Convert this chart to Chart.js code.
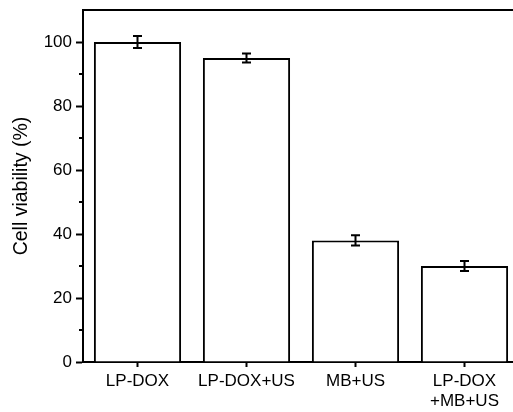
<!DOCTYPE html>
<html>
<head>
<meta charset="utf-8">
<script src="https://cdn.jsdelivr.net/npm/chart.js@4"></script>
<style>
  html, body { margin: 0; padding: 0; background: #fff; overflow: hidden; }
  #wrap { width: 520px; height: 412px; }
</style>
</head>
<body>
<div id="wrap"><canvas id="viabilityChart" width="520" height="412"></canvas></div>
<script>
// data
var categories = ['LP-DOX', 'LP-DOX+US', 'MB+US', ['LP-DOX', '+MB+US']];
var viability = [100, 95, 38, 30];
var errors = [1.9, 1.4, 1.6, 1.6];
var yTicks = [0, 20, 40, 60, 80, 100];
var yMinorTicks = [10, 30, 50, 70, 90];

var FONT = 'Liberation Sans, Arial, sans-serif';

// error bars, top frame line and minor y ticks
var extras = {
    id: 'extras',
    afterDatasetsDraw: function (chart) {
        var ctx = chart.ctx;
        var y = chart.scales.y;
        var area = chart.chartArea;
        var meta = chart.getDatasetMeta(0);
        ctx.save();
        ctx.strokeStyle = '#000';
        ctx.lineWidth = 2;
        meta.data.forEach(function (bar, i) {
            var top = y.getPixelForValue(viability[i] + errors[i]);
            var bot = y.getPixelForValue(viability[i] - errors[i]);
            ctx.beginPath();
            ctx.moveTo(bar.x, top); ctx.lineTo(bar.x, bot);
            ctx.moveTo(bar.x - 4.5, top); ctx.lineTo(bar.x + 4.5, top);
            ctx.moveTo(bar.x - 4.5, bot); ctx.lineTo(bar.x + 4.5, bot);
            ctx.stroke();
        });
        // top frame
        ctx.beginPath();
        ctx.moveTo(area.left - 1, area.top);
        ctx.lineTo(area.right + 1, area.top);
        ctx.stroke();
        // minor ticks
        yMinorTicks.forEach(function (v) {
            var py = y.getPixelForValue(v);
            ctx.beginPath();
            ctx.moveTo(area.left - 4, py);
            ctx.lineTo(area.left, py);
            ctx.stroke();
        });
        ctx.restore();
    }
};

var ctx = document.getElementById('viabilityChart').getContext('2d');
var chart = new Chart(ctx, {
    type: 'bar',
    data: {
        labels: categories,
        datasets: [{
            data: viability,
            backgroundColor: '#fff',
            borderColor: '#000',
            borderWidth: 2,
            barPercentage: 0.8,
            categoryPercentage: 1
        }]
    },
    options: {
        responsive: false,
        animation: false,
        layout: { padding: { top: 10, right: 1, left: 0, bottom: 0 } },
        plugins: { legend: { display: false }, tooltip: { enabled: false } },
        scales: {
            x: {
                afterFit: function (s) { s.height = 50; s.paddingLeft = 0; s.paddingRight = 0; },
                border: { display: true, color: '#000', width: 2 },
                grid: { display: true, drawOnChartArea: false, offset: false, tickLength: 5, tickWidth: 2, tickColor: '#000' },
                ticks: { color: '#000', font: { family: FONT, size: 17 }, padding: 4, maxRotation: 0, autoSkip: false }
            },
            y: {
                min: 0,
                max: 110,
                afterFit: function (s) { s.width = 83; s.paddingTop = 0; s.paddingBottom = 0; },
                afterBuildTicks: function (s) {
                    s.ticks = yTicks.map(function (v) { return { value: v }; });
                },
                border: { display: true, color: '#000', width: 2 },
                grid: { display: true, drawOnChartArea: false, tickLength: 7, tickWidth: 2, tickColor: '#000' },
                ticks: { color: '#000', font: { family: FONT, size: 17 }, padding: 4 },
                title: {
                    display: true,
                    text: 'Cell viability (%)',
                    color: '#000',
                    font: { family: FONT, size: 19.5 },
                    padding: { top: 10, bottom: 0 }
                }
            }
        }
    },
    plugins: [extras]
});
</script>
</body>
</html>
